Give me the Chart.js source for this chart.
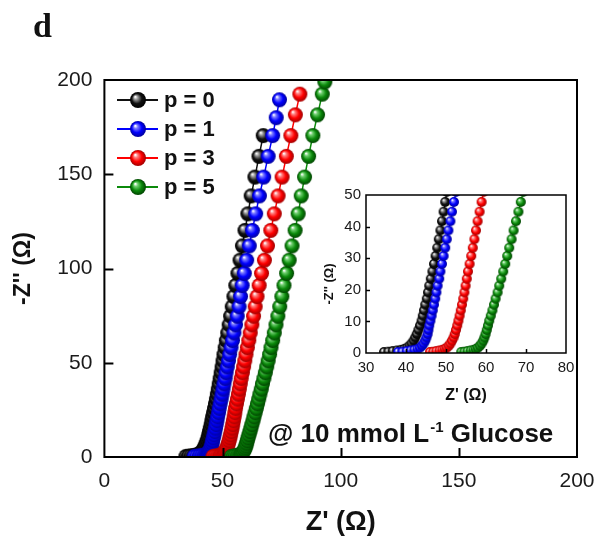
<!DOCTYPE html>
<html>
<head>
<meta charset="utf-8">
<script src="https://cdn.jsdelivr.net/npm/chart.js@4.4.1/dist/chart.umd.min.js"></script>
<style>
  body { margin: 0; background: #fff; }
  #wrap { position: relative; width: 601px; height: 539px; }
  #main { position: absolute; left: 0; top: 0; }
  #inset { position: absolute; left: 320px; top: 180px; }
</style>
</head>
<body>
<div id="wrap">
  <canvas id="main" width="601" height="539"></canvas>
  <canvas id="inset" width="270" height="230"></canvas>
</div>
<script>
// Nyquist data, Z' (ohm) and -Z'' (ohm)
const seriesLabels = ['p = 0', 'p = 1', 'p = 3', 'p = 5'];

const zReP0 = [34.5, 35.6, 36.7, 37.8, 38.8, 39.6, 40.3, 40.9, 41.4, 41.9, 42.3, 42.7, 43.1, 43.5, 43.9,
  44.2, 44.5, 44.8, 45.2, 45.5, 45.8, 46.2, 46.6, 47.0, 47.4, 47.8, 48.2, 48.6, 49.0, 49.4, 49.8, 50.2,
  50.6, 51.1, 51.6, 52.2, 52.8, 53.4, 54.1, 54.8, 55.6, 56.5, 57.4, 58.4, 59.5, 60.7, 62.1, 63.7, 65.4, 67.2];
const zImP0 = [0.3, 0.4, 0.6, 0.8, 1.0, 1.3, 1.7, 2.3, 3.0, 3.9, 4.9, 6.0, 7.3, 8.7, 10.2,
  11.8, 13.5, 15.3, 17.2, 19.2, 21.3, 23.5, 25.8, 28.2, 30.7, 33.3, 36.0, 38.8, 41.7, 44.7, 47.8, 51.0,
  54.4, 58.0, 61.8, 65.8, 70.1, 74.7, 79.7, 85.1, 91.0, 97.4, 104.4, 112.0, 120.2, 129.0, 138.5, 148.5, 159.5, 170.5];

const zReP1 = [38.0, 39.1, 40.2, 41.2, 42.1, 42.9, 43.5, 44.0, 44.4, 44.8, 45.1, 45.4, 45.6, 45.8, 46.1,
  46.4, 46.7, 47.0, 47.3, 47.6, 47.9, 48.3, 48.6, 49.0, 49.4, 49.8, 50.2, 50.6, 51.1, 51.5, 52.0, 52.5,
  53.0, 53.6, 54.2, 54.8, 55.5, 56.2, 57.0, 57.6, 58.3, 59.2, 60.2, 61.3, 62.6, 64.0, 65.6, 67.4, 69.3, 71.2,
  72.7, 74.1];
const zImP1 = [0.3, 0.4, 0.6, 0.8, 1.0, 1.3, 1.7, 2.3, 3.0, 3.9, 4.9, 6.0, 7.3, 8.7, 10.2,
  11.8, 13.5, 15.3, 17.2, 19.2, 21.3, 23.5, 25.8, 28.2, 30.7, 33.3, 36.0, 38.8, 41.7, 44.7, 47.8, 51.0,
  54.4, 58.0, 61.8, 65.8, 70.1, 74.7, 79.7, 85.1, 91.0, 97.4, 104.4, 112.0, 120.2, 129.0, 138.5, 148.5, 159.5, 170.5,
  180.0, 189.5];

const zReP3 = [46.0, 46.8, 47.6, 48.4, 49.1, 49.7, 50.2, 50.7, 51.1, 51.5, 51.9, 52.2, 52.5, 52.8, 53.1,
  53.4, 53.7, 54.0, 54.3, 54.6, 54.9, 55.2, 55.5, 55.9, 56.3, 56.7, 57.1, 57.5, 57.9, 58.4, 58.9, 59.4,
  59.9, 60.5, 61.1, 61.7, 62.4, 63.1, 63.8, 64.6, 65.5, 66.5, 67.7, 69.0, 70.4, 71.9, 73.5, 75.2, 77.0, 78.9,
  80.8, 82.7];
const zImP3 = [0.3, 0.4, 0.6, 0.8, 1.0, 1.3, 1.7, 2.3, 3.0, 3.9, 4.9, 6.0, 7.3, 8.7, 10.2,
  11.8, 13.5, 15.3, 17.2, 19.2, 21.3, 23.5, 25.8, 28.2, 30.7, 33.3, 36.0, 38.8, 41.7, 44.7, 47.8, 51.0,
  54.4, 58.0, 61.8, 65.8, 70.1, 74.7, 79.7, 85.1, 91.0, 97.4, 104.4, 112.0, 120.2, 129.0, 138.5, 148.5, 159.5, 170.5,
  181.5, 192.5];

const zReP5 = [53.8, 54.6, 55.4, 56.2, 56.9, 57.5, 58.0, 58.5, 58.9, 59.3, 59.6, 59.9, 60.2, 60.5, 60.8,
  61.2, 61.6, 62.0, 62.4, 62.9, 63.3, 63.8, 64.3, 64.8, 65.3, 65.8, 66.4, 66.9, 67.5, 68.1, 68.7, 69.3,
  69.9, 70.5, 71.2, 71.9, 72.6, 73.4, 74.2, 75.1, 76.0, 77.1, 78.2, 79.4, 80.7, 82.0, 83.3, 84.7, 86.4, 88.2,
  90.2, 92.2, 93.3];
const zImP5 = [0.3, 0.4, 0.6, 0.8, 1.0, 1.3, 1.7, 2.3, 3.0, 3.9, 4.9, 6.0, 7.3, 8.7, 10.2,
  11.8, 13.5, 15.3, 17.2, 19.2, 21.3, 23.5, 25.8, 28.2, 30.7, 33.3, 36.0, 38.8, 41.7, 44.7, 47.8, 51.0,
  54.4, 58.0, 61.8, 65.8, 70.1, 74.7, 79.7, 85.1, 91.0, 97.4, 104.4, 112.0, 120.2, 129.0, 138.5, 148.5, 159.5, 170.5,
  181.5, 192.5, 199.0];

const mainTicksX = [0, 50, 100, 150, 200];
const mainTicksY = [0, 50, 100, 150, 200];
const insetTicksX = [30, 40, 50, 60, 70, 80];
const insetTicksY = [0, 10, 20, 30, 40, 50];

const SANS = 'Arial, "Liberation Sans", sans-serif';

// colour for each series: base, highlight, shadow
const palette = [
  { base: '#111111', light: '#9a9a9a', dark: '#000000' },
  { base: '#0000ff', light: '#7a7aff', dark: '#00009a' },
  { base: '#ff0000', light: '#ff8080', dark: '#a00000' },
  { base: '#0b8a0b', light: '#6fcf6f', dark: '#004400' }
];

// small shaded ball used as point style
function makeBall(col, r) {
  const c = document.createElement('canvas');
  const s = Math.ceil(r * 2) + 2;
  c.width = s; c.height = s;
  const g = c.getContext('2d');
  const cx = s / 2, cy = s / 2;
  const grad = g.createRadialGradient(cx - r * 0.35, cy - r * 0.4, r * 0.05, cx, cy, r);
  grad.addColorStop(0, '#ffffff');
  grad.addColorStop(0.22, col.light);
  grad.addColorStop(0.6, col.base);
  grad.addColorStop(1, col.dark);
  g.fillStyle = grad;
  g.beginPath();
  g.arc(cx, cy, r, 0, Math.PI * 2);
  g.fill();
  return c;
}

const reList = [zReP0, zReP1, zReP3, zReP5];
const imList = [zImP0, zImP1, zImP3, zImP5];

function buildDatasets(r, lineW) {
  return seriesLabels.map((lab, i) => ({
    label: lab,
    data: reList[i].map((v, k) => ({ x: v, y: imList[i][k] })),
    showLine: true,
    borderColor: palette[i].base,
    borderWidth: lineW,
    pointStyle: makeBall(palette[i], r),
    pointRadius: r,
    order: 4 - i
  }));
}

// keep the plot box where the layout padding puts it
function noEdgePadding(s) {
  s.paddingLeft = 0; s.paddingRight = 0;
  s.paddingTop = 0; s.paddingBottom = 0;
}

// box around plot area + inward ticks
const frameTicks = {
  id: 'frameTicks',
  afterDatasetsDraw(chart, args, opts) {
    const { ctx, chartArea: a, scales: { x, y } } = chart;
    ctx.save();
    ctx.strokeStyle = '#000';
    ctx.lineWidth = opts.width;
    ctx.beginPath();
    x.ticks.forEach(t => {
      if (t.value > x.min && t.value < x.max) {
        const px = Math.round(x.getPixelForValue(t.value)) + 0.5;
        ctx.moveTo(px, a.bottom);
        ctx.lineTo(px, a.bottom - opts.len);
      }
    });
    y.ticks.forEach(t => {
      if (t.value > y.min && t.value < y.max) {
        const py = Math.round(y.getPixelForValue(t.value)) + 0.5;
        ctx.moveTo(a.left, py);
        ctx.lineTo(a.left + opts.len, py);
      }
    });
    ctx.stroke();
    ctx.strokeRect(a.left, a.top, a.right - a.left, a.bottom - a.top);
    ctx.restore();
  }
};

// legend, note text and panel letter of the main chart
const mainDecor = {
  id: 'mainDecor',
  afterDraw(chart) {
    const ctx = chart.ctx;
    ctx.save();
    ctx.textBaseline = 'middle';
    chart.data.datasets.forEach((ds, i) => {
      const yy = 100 + i * 29;
      ctx.strokeStyle = ds.borderColor;
      ctx.lineWidth = 2;
      ctx.beginPath();
      ctx.moveTo(117, yy);
      ctx.lineTo(158, yy);
      ctx.stroke();
      const img = makeBall(palette[i], 8);
      ctx.drawImage(img, 138 - img.width / 2, yy - img.height / 2);
      ctx.fillStyle = '#111';
      ctx.font = 'bold 22px ' + SANS;
      ctx.textAlign = 'left';
      ctx.fillText(ds.label, 164, yy + 1);
    });

    // @ 10 mmol L-1 Glucose
    ctx.textBaseline = 'alphabetic';
    ctx.fillStyle = '#111';
    let xx = 268;
    const base = 442;
    ctx.font = 'bold 26px ' + SANS;
    const p1 = '@ 10 mmol L';
    ctx.fillText(p1, xx, base);
    xx += ctx.measureText(p1).width + 1;
    ctx.font = 'bold 15px ' + SANS;
    ctx.fillText('-1', xx, base - 10);
    xx += ctx.measureText('-1').width;
    ctx.font = 'bold 26px ' + SANS;
    ctx.fillText(' Glucose', xx, base);

    ctx.font = 'bold 34px "Liberation Serif", "Times New Roman", serif';
    ctx.fillText('d', 33, 37);
    ctx.restore();
  }
};

// rotated y title of the inset, placed a little below the axis middle
const insetTitle = {
  id: 'insetTitle',
  afterDraw(chart) {
    const ctx = chart.ctx;
    ctx.save();
    ctx.translate(9, 104);
    ctx.rotate(-Math.PI / 2);
    ctx.textAlign = 'center';
    ctx.textBaseline = 'middle';
    ctx.fillStyle = '#111';
    ctx.font = 'bold 13px ' + SANS;
    ctx.fillText("-Z'' (Ω)", 0, 0);
    ctx.restore();
  }
};

new Chart(document.getElementById('main'), {
  type: 'scatter',
  data: { datasets: buildDatasets(7.5, 1.5) },
  plugins: [frameTicks, mainDecor],
  options: {
    responsive: false,
    animation: false,
    layout: { padding: { top: 80, right: 24, left: 0, bottom: 0 } },
    plugins: {
      legend: { display: false },
      tooltip: { enabled: false },
      frameTicks: { width: 2, len: 9 }
    },
    scales: {
      x: {
        type: 'linear',
        min: 0, max: 200,
        afterBuildTicks: s => { s.ticks = mainTicksX.map(v => ({ value: v })); },
        afterFit: s => { s.height = 82; noEdgePadding(s); },
        grid: { display: false, drawTicks: false },
        border: { display: false },
        ticks: { color: '#1a1a1a', padding: 12, font: { family: SANS, size: 21 } },
        title: {
          display: true, text: "Z' (Ω)", color: '#111',
          padding: { top: 0, bottom: 0 },
          font: { family: SANS, size: 27, weight: 'bold' }
        }
      },
      y: {
        type: 'linear',
        min: 0, max: 200,
        afterBuildTicks: s => { s.ticks = mainTicksY.map(v => ({ value: v })); },
        afterFit: s => { s.width = 104.4; noEdgePadding(s); },
        grid: { display: false, drawTicks: false },
        border: { display: false },
        ticks: { color: '#1a1a1a', padding: 12, font: { family: SANS, size: 21 } },
        title: {
          display: true, text: "-Z'' (Ω)", color: '#111',
          padding: { top: 10, bottom: 0 },
          font: { family: SANS, size: 23, weight: 'bold' }
        }
      }
    }
  }
});

new Chart(document.getElementById('inset'), {
  type: 'scatter',
  data: { datasets: buildDatasets(5, 1) },
  plugins: [frameTicks, insetTitle],
  options: {
    responsive: false,
    animation: false,
    layout: { padding: { top: 15, right: 24, left: 0, bottom: 0 } },
    plugins: {
      legend: { display: false },
      tooltip: { enabled: false },
      frameTicks: { width: 1.5, len: 4 }
    },
    scales: {
      x: {
        type: 'linear',
        min: 30, max: 80,
        afterBuildTicks: s => { s.ticks = insetTicksX.map(v => ({ value: v })); },
        afterFit: s => { s.height = 57; noEdgePadding(s); },
        grid: { display: false, drawTicks: false },
        border: { display: false },
        ticks: { color: '#1a1a1a', padding: 6, font: { family: SANS, size: 15 } },
        title: {
          display: true, text: "Z' (Ω)", color: '#111',
          padding: { top: 0, bottom: 5 },
          font: { family: SANS, size: 16, weight: 'bold' }
        }
      },
      y: {
        type: 'linear',
        min: 0, max: 50,
        afterBuildTicks: s => { s.ticks = insetTicksY.map(v => ({ value: v })); },
        afterFit: s => { s.width = 46; noEdgePadding(s); },
        grid: { display: false, drawTicks: false },
        border: { display: false },
        ticks: { color: '#1a1a1a', padding: 5, font: { family: SANS, size: 15 } },
        title: { display: false }
      }
    }
  }
});
</script>
</body>
</html>
